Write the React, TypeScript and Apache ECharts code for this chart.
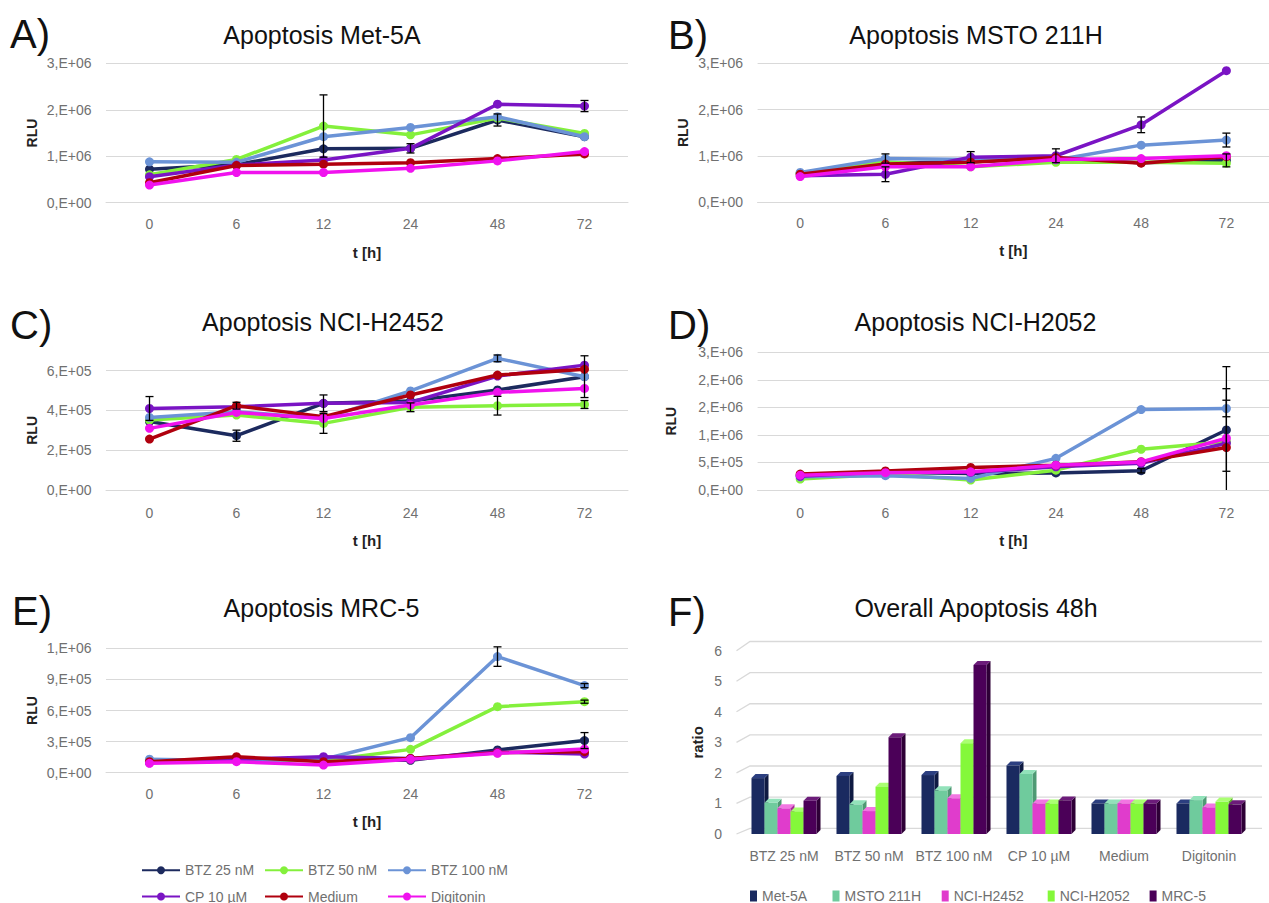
import React, { useEffect, useRef } from "react";
import * as echarts from "echarts";

// ---------- categories ----------
const timePoints = ["0", "6", "12", "24", "48", "72"];
const treatments = ["BTZ 25 nM", "BTZ 50 nM", "BTZ 100 nM", "CP 10 µM", "Medium", "Digitonin"];
const cellLines = ["Met-5A", "MSTO 211H", "NCI-H2452", "NCI-H2052", "MRC-5"];

// ---------- A) Met-5A (RLU) ----------
const metBTZ25 = [0.72e6, 0.82e6, 1.16e6, 1.17e6, 1.78e6, 1.42e6];
const metBTZ50 = [0.6e6, 0.93e6, 1.65e6, 1.46e6, 1.82e6, 1.49e6];
const metBTZ100 = [0.88e6, 0.87e6, 1.42e6, 1.62e6, 1.85e6, 1.42e6];
const metCP10 = [0.56e6, 0.81e6, 0.92e6, 1.17e6, 2.12e6, 2.08e6];
const metMedium = [0.43e6, 0.8e6, 0.83e6, 0.86e6, 0.95e6, 1.05e6];
const metDigitonin = [0.38e6, 0.65e6, 0.65e6, 0.74e6, 0.9e6, 1.1e6];
// [series index, time index, error]
const metErrors = [[1, 2, 0.67e6], [0, 3, 0.1e6], [0, 4, 0.13e6], [3, 5, 0.12e6]];

// ---------- B) MSTO 211H ----------
const mstoBTZ25 = [0.62e6, 0.84e6, 0.87e6, 0.95e6, 0.85e6, 0.9e6];
const mstoBTZ50 = [0.62e6, 0.87e6, 0.76e6, 0.86e6, 0.86e6, 0.84e6];
const mstoBTZ100 = [0.64e6, 0.94e6, 0.92e6, 0.91e6, 1.23e6, 1.34e6];
const mstoCP10 = [0.57e6, 0.6e6, 0.97e6, 1.0e6, 1.67e6, 2.84e6];
const mstoMedium = [0.6e6, 0.82e6, 0.86e6, 0.96e6, 0.84e6, 0.98e6];
const mstoDigitonin = [0.55e6, 0.76e6, 0.76e6, 0.92e6, 0.94e6, 1.0e6];
const mstoErrors = [[3, 1, 0.16e6], [2, 1, 0.1e6], [3, 2, 0.12e6], [3, 3, 0.15e6], [3, 4, 0.17e6], [2, 5, 0.15e6], [0, 5, 0.14e6]];

// ---------- C) NCI-H2452 ----------
const h2452BTZ25 = [3.44e5, 2.73e5, 4.36e5, 4.47e5, 5.03e5, 5.7e5];
const h2452BTZ50 = [3.52e5, 3.77e5, 3.35e5, 4.16e5, 4.24e5, 4.3e5];
const h2452BTZ100 = [3.65e5, 3.94e5, 3.6e5, 4.98e5, 6.62e5, 5.7e5];
const h2452CP10 = [4.1e5, 4.19e5, 4.36e5, 4.4e5, 5.73e5, 6.28e5];
const h2452Medium = [2.56e5, 4.24e5, 3.69e5, 4.78e5, 5.78e5, 6.07e5];
const h2452Digitonin = [3.1e5, 3.9e5, 3.6e5, 4.27e5, 4.91e5, 5.11e5];
const h2452Errors = [[3, 0, 0.6e5], [0, 1, 0.28e5], [4, 1, 0.17e5], [1, 2, 0.5e5], [3, 2, 0.42e5], [1, 3, 0.22e5], [1, 4, 0.47e5], [2, 4, 0.17e5], [0, 5, 1.05e5], [1, 5, 0.2e5]];

// ---------- D) NCI-H2052 ----------
const h2052BTZ25 = [2.7e5, 3.2e5, 3.0e5, 3.1e5, 3.5e5, 10.9e5];
const h2052BTZ50 = [2.0e5, 2.85e5, 1.8e5, 3.6e5, 7.4e5, 8.75e5];
const h2052BTZ100 = [2.4e5, 2.6e5, 2.1e5, 5.75e5, 14.6e5, 14.8e5];
const h2052CP10 = [2.5e5, 3.3e5, 3.2e5, 4.2e5, 4.85e5, 8.5e5];
const h2052Medium = [2.9e5, 3.45e5, 4.1e5, 4.5e5, 5.15e5, 7.7e5];
const h2052Digitonin = [2.7e5, 3.15e5, 3.3e5, 4.5e5, 5.1e5, 9.4e5];
const h2052Errors = [[0, 4, 0.4e5], [2, 5, 1.5e5], [0, 5, 7.5e5], [5, 5, 13e5]];

// ---------- E) MRC-5 ----------
const mrcBTZ25 = [1.06e5, 1.2e5, 1.3e5, 1.2e5, 2.2e5, 3.1e5];
const mrcBTZ50 = [1.06e5, 1.2e5, 1.15e5, 2.25e5, 6.37e5, 6.85e5];
const mrcBTZ100 = [1.3e5, 1.15e5, 1.3e5, 3.38e5, 11.2e5, 8.4e5];
const mrcCP10 = [0.96e5, 1.3e5, 1.55e5, 1.38e5, 2.0e5, 1.8e5];
const mrcMedium = [1.06e5, 1.55e5, 1.06e5, 1.38e5, 1.93e5, 2.03e5];
const mrcDigitonin = [0.9e5, 1.06e5, 0.74e5, 1.29e5, 1.87e5, 2.28e5];
const mrcErrors = [[2, 4, 0.94e5], [2, 5, 0.2e5], [0, 5, 0.77e5], [1, 5, 0.15e5]];

// ---------- F) Overall apoptosis 48h (ratio) ----------
const ratioMet5A = [1.83, 1.9, 1.93, 2.24, 1.0, 1.0];
const ratioMSTO = [1.02, 0.97, 1.43, 1.96, 1.0, 1.11];
const ratioH2452 = [0.84, 0.75, 1.17, 1.0, 1.0, 0.87];
const ratioH2052 = [0.74, 1.55, 2.97, 1.0, 1.0, 1.06];
const ratioMRC5 = [1.09, 3.17, 5.53, 1.1, 1.0, 0.97];

// ---------- styles ----------
const FONT = "'Liberation Sans', Arial, sans-serif";
const lineColors = ["#1c2a5e", "#84f03c", "#6b93d6", "#7a14c4", "#b0000e", "#f012ee"];
const barFront = ["#1a2a60", "#6fcb9d", "#e03ccc", "#84f83a", "#4b0058"];
const barSide = ["#0f1a42", "#4f9a74", "#a82a98", "#5cb828", "#2e0036"];
const barTop = ["#2c3f80", "#92e2ba", "#f276e2", "#aaff72", "#6c1c7a"];
const LABEL = "#707070";
const GRID = "#d9d9d9";

const sci = (v: number) => {
  if (v === 0) return "0,E+00";
  const [m, ex] = v.toExponential(0).split("e");
  const n = parseInt(ex, 10);
  return `${m},E${n < 0 ? "-" : "+"}${String(Math.abs(n)).padStart(2, "0")}`;
};

const panels = [
  { title: "Apoptosis Met-5A", letter: "A)", data: [metBTZ25, metBTZ50, metBTZ100, metCP10, metMedium, metDigitonin], errors: metErrors, max: 3e6, interval: 1e6,
    grid: { left: 106, top: 63.3, width: 522, height: 139.4 }, titlePos: [322, 35], letterPos: [10, 34], nameGapY: 67, nameGapX: 42, labelMargin: 14, clip: true },
  { title: "Apoptosis MSTO 211H", letter: "B)", data: [mstoBTZ25, mstoBTZ50, mstoBTZ100, mstoCP10, mstoMedium, mstoDigitonin], errors: mstoErrors, max: 3e6, interval: 1e6,
    grid: { left: 757.6, top: 63.3, width: 521, height: 138.7 }, titlePos: [976, 35], letterPos: [668, 35], nameGapY: 67.6, nameGapX: 41, labelMargin: 14, clip: true },
  { title: "Apoptosis NCI-H2452", letter: "C)", data: [h2452BTZ25, h2452BTZ50, h2452BTZ100, h2452CP10, h2452Medium, h2452Digitonin], errors: h2452Errors, max: 6e5, interval: 2e5,
    grid: { left: 106, top: 370.7, width: 522, height: 119.3 }, titlePos: [323, 322], letterPos: [10, 325], nameGapY: 67, nameGapX: 42.5, labelMargin: 16, clip: false },
  { title: "Apoptosis NCI-H2052", letter: "D)", data: [h2052BTZ25, h2052BTZ50, h2052BTZ100, h2052CP10, h2052Medium, h2052Digitonin], errors: h2052Errors, max: 2.5e6, interval: 5e5,
    grid: { left: 757.6, top: 352.3, width: 521, height: 137.7 }, titlePos: [975.5, 322], letterPos: [668, 325], nameGapY: 79.6, nameGapX: 42.5, labelMargin: 16, clip: true },
  { title: "Apoptosis MRC-5", letter: "E)", data: [mrcBTZ25, mrcBTZ50, mrcBTZ100, mrcCP10, mrcMedium, mrcDigitonin], errors: mrcErrors, max: 1.2e6, interval: 3e5,
    grid: { left: 106, top: 648.3, width: 522, height: 124.4 }, titlePos: [321.5, 608], letterPos: [12, 611], nameGapY: 67, nameGapX: 41.5, labelMargin: 14, clip: true },
];

const ratioSeries = [ratioMet5A, ratioMSTO, ratioH2452, ratioH2052, ratioMRC5];

const errRender = (params: any, api: any) => {
  const x = api.value(0);
  const v = api.value(1);
  const e = api.value(2);
  const hi = api.coord([x, v + e]);
  const lowVal = v - e;
  const lo = api.coord([x, Math.max(0, lowVal)]);
  const cap = 4;
  const st = { stroke: "#000", lineWidth: 1.3 };
  const children: any[] = [
    { type: "line", shape: { x1: hi[0], y1: hi[1], x2: lo[0], y2: lo[1] }, style: st },
    { type: "line", shape: { x1: hi[0] - cap, y1: hi[1], x2: hi[0] + cap, y2: hi[1] }, style: st },
  ];
  if (lowVal >= 0) children.push({ type: "line", shape: { x1: lo[0] - cap, y1: lo[1], x2: lo[0] + cap, y2: lo[1] }, style: st });
  return { type: "group", children };
};

const makeBarRender = (k: number) => (params: any, api: any) => {
  const c = api.value(0);
  const v = api.value(1);
  const band = api.size([1, 0])[0];
  const bw = band * 0.153;
  const base = api.coord([c, 0]);
  const x = base[0] - 2.5 * bw + k * bw;
  const yb = base[1];
  const yt = api.coord([c, v])[1];
  const dx = 4;
  const dy = 4;
  return {
    type: "group",
    children: [
      { type: "polygon", shape: { points: [[x + bw, yt], [x + bw + dx, yt - dy], [x + bw + dx, yb - dy], [x + bw, yb]] }, style: { fill: barSide[k] } },
      { type: "polygon", shape: { points: [[x, yt], [x + dx, yt - dy], [x + bw + dx, yt - dy], [x + bw, yt]] }, style: { fill: barTop[k] } },
      { type: "rect", shape: { x, y: yt, width: bw, height: yb - yt }, style: { fill: barFront[k] } },
    ],
  };
};

const wallRender = (params: any, api: any) => {
  const cs = params.coordSys;
  const y = api.coord([0, api.value(1)])[1];
  const yb = cs.y - 9.2 + (y - cs.y) * 1.019;
  return {
    type: "polyline",
    shape: { points: [[cs.x - 5, y], [cs.x + 8.5, yb], [1262, yb]] },
    style: { stroke: GRID, lineWidth: 1.3, fill: "none" },
  };
};

function buildOption() {
  const grid: any[] = [];
  const xAxis: any[] = [];
  const yAxis: any[] = [];
  const series: any[] = [];
  const graphic: any[] = [];
  const legend: any[] = [];

  panels.forEach((p, i) => {
    grid.push({ ...p.grid, containLabel: false });
    xAxis.push({
      type: "category", gridIndex: i, data: timePoints, boundaryGap: true,
      axisTick: { show: false }, axisLine: { show: true, lineStyle: { color: GRID } },
      axisLabel: { fontSize: 14, color: LABEL, margin: p.labelMargin, fontFamily: FONT, interval: 0 },
      name: "t [h]", nameLocation: "middle", nameGap: p.nameGapX,
      nameTextStyle: { fontWeight: "bold", fontSize: 15, color: "#222", fontFamily: FONT },
    });
    yAxis.push({
      type: "value", gridIndex: i, min: 0, max: p.max, interval: p.interval,
      axisLine: { show: false }, axisTick: { show: false },
      splitLine: { show: true, lineStyle: { color: GRID, width: 1 } },
      axisLabel: { formatter: sci, fontSize: 14, color: LABEL, margin: 14.5, fontFamily: FONT },
      name: "RLU", nameLocation: "middle", nameRotate: 90, nameGap: p.nameGapY,
      nameTextStyle: { fontWeight: "bold", fontSize: 14, color: "#222", fontFamily: FONT },
    });
    p.data.forEach((arr, s) => {
      series.push({
        type: "line", name: treatments[s], xAxisIndex: i, yAxisIndex: i, data: arr,
        symbol: "circle", symbolSize: 9, clip: p.clip,
        lineStyle: { width: 3.5, color: lineColors[s] }, itemStyle: { color: lineColors[s] },
        z: 2 + s * 0.01,
      });
    });
    series.push({
      type: "custom", name: "err" + i, xAxisIndex: i, yAxisIndex: i, renderItem: errRender, clip: false,
      data: p.errors.map(([s, t, e]) => [t, p.data[s][t], e]),
      encode: { x: 0, y: 1 }, z: 5, silent: true,
    });
    graphic.push({ type: "text", x: p.titlePos[0], y: p.titlePos[1], style: { text: p.title, fontSize: 25, fontFamily: FONT, fill: "#111", align: "center", verticalAlign: "middle" } });
    graphic.push({ type: "text", x: p.letterPos[0], y: p.letterPos[1], style: { text: p.letter, fontSize: 40, fontFamily: FONT, fill: "#111", align: "left", verticalAlign: "middle" } });
  });

  // ---- panel F ----
  const fi = panels.length;
  grid.push({ left: 741.5, top: 650.7, width: 510, height: 183.3 });
  xAxis.push({
    type: "category", gridIndex: fi, data: treatments, boundaryGap: true,
    axisTick: { show: false }, axisLine: { show: false },
    axisLabel: { fontSize: 14, color: LABEL, margin: 15, fontFamily: FONT, interval: 0 },
  });
  yAxis.push({
    type: "value", gridIndex: fi, min: 0, max: 6, interval: 1,
    axisLine: { show: false }, axisTick: { show: false }, splitLine: { show: false },
    axisLabel: { fontSize: 14, color: LABEL, margin: 19.5, fontFamily: FONT },
    name: "ratio", nameLocation: "middle", nameRotate: 90, nameGap: 37,
    nameTextStyle: { fontWeight: "bold", fontSize: 15, color: "#222", fontFamily: FONT },
  });
  series.push({
    type: "custom", name: "wall", xAxisIndex: fi, yAxisIndex: fi, renderItem: wallRender, silent: true, clip: false,
    data: [0, 1, 2, 3, 4, 5, 6].map((v) => [0, v]), encode: { x: 0, y: 1 }, z: 0,
  });
  ratioSeries.forEach((arr, k) => {
    series.push({
      type: "custom", name: cellLines[k], xAxisIndex: fi, yAxisIndex: fi, renderItem: makeBarRender(k), clip: false,
      data: arr.map((v, c) => [c, v]), encode: { x: 0, y: 1 }, itemStyle: { color: barFront[k] }, z: 2,
    });
  });
  graphic.push({ type: "text", x: 976, y: 608.3, style: { text: "Overall Apoptosis 48h", fontSize: 25, fontFamily: FONT, fill: "#111", align: "center", verticalAlign: "middle" } });
  graphic.push({ type: "text", x: 668, y: 612, style: { text: "F)", fontSize: 40, fontFamily: FONT, fill: "#111", align: "left", verticalAlign: "middle" } });

  // ---- legends: line treatments (below E) ----
  const legCols = [141, 264, 387];
  const legRows = [868.3, 894.5];
  treatments.forEach((name, s) => {
    legend.push({
      data: [name], left: legCols[s % 3], top: legRows[Math.floor(s / 3)] - 5, itemWidth: 38, itemHeight: 10,
      itemGap: 0, padding: 0, selectedMode: false,
      textStyle: { fontSize: 14, color: LABEL, fontFamily: FONT },
    });
  });
  // ---- legends: cell lines (below F) ----
  const cellLegX = [750, 832.5, 941.7, 1047.7, 1149.6];
  cellLines.forEach((name, k) => {
    legend.push({
      data: [name], left: cellLegX[k], top: 889, itemWidth: 7, itemHeight: 11, icon: "rect",
      itemGap: 0, padding: 0, selectedMode: false,
      textStyle: { fontSize: 14, color: LABEL, fontFamily: FONT },
    });
  });

  return {
    animation: false,
    backgroundColor: "#ffffff",
    textStyle: { fontFamily: FONT },
    grid, xAxis, yAxis, series, graphic, legend,
  };
}

export default function App() {
  const ref = useRef<HTMLDivElement>(null);
  useEffect(() => {
    if (!ref.current) return;
    const chart = echarts.init(ref.current, undefined, { renderer: "svg" });
    chart.setOption(buildOption() as any);
    return () => chart.dispose();
  }, []);
  return <div ref={ref} style={{ position: "absolute", left: 0, top: 0, width: 1269, height: 903, background: "#fff" }} />;
}
